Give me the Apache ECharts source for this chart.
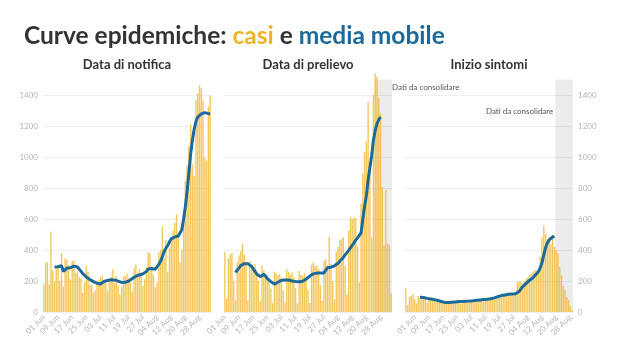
<!DOCTYPE html>
<html>
<head>
<meta charset="utf-8">
<script src="https://cdn.jsdelivr.net/npm/echarts@6/dist/echarts.min.js"></script>
<style>
  html, body { margin: 0; padding: 0; background: #fff; }
  #chart { width: 620px; height: 352px; }
</style>
</head>
<body>
<div id="chart"></div>
<script>
// notifica e prelievo: 01 Jun - 03 Sep
const dates = [
  '01 Jun','02 Jun','03 Jun','04 Jun','05 Jun','06 Jun','07 Jun','08 Jun','09 Jun','10 Jun',
  '11 Jun','12 Jun','13 Jun','14 Jun','15 Jun','16 Jun','17 Jun','18 Jun','19 Jun','20 Jun',
  '21 Jun','22 Jun','23 Jun','24 Jun','25 Jun','26 Jun','27 Jun','28 Jun','29 Jun','30 Jun',
  '01 Jul','02 Jul','03 Jul','04 Jul','05 Jul','06 Jul','07 Jul','08 Jul','09 Jul','10 Jul',
  '11 Jul','12 Jul','13 Jul','14 Jul','15 Jul','16 Jul','17 Jul','18 Jul','19 Jul','20 Jul',
  '21 Jul','22 Jul','23 Jul','24 Jul','25 Jul','26 Jul','27 Jul','28 Jul','29 Jul','30 Jul',
  '31 Jul','01 Aug','02 Aug','03 Aug','04 Aug','05 Aug','06 Aug','07 Aug','08 Aug','09 Aug',
  '10 Aug','11 Aug','12 Aug','13 Aug','14 Aug','15 Aug','16 Aug','17 Aug','18 Aug','19 Aug',
  '20 Aug','21 Aug','22 Aug','23 Aug','24 Aug','25 Aug','26 Aug','27 Aug','28 Aug','29 Aug',
  '30 Aug','31 Aug','01 Sep','02 Sep','03 Sep'
];
// inizio sintomi: 27 May - 29 Aug
const datesSintomi = [
  '27 May','28 May','29 May','30 May','31 May',
  '01 Jun','02 Jun','03 Jun','04 Jun','05 Jun','06 Jun','07 Jun','08 Jun','09 Jun','10 Jun',
  '11 Jun','12 Jun','13 Jun','14 Jun','15 Jun','16 Jun','17 Jun','18 Jun','19 Jun','20 Jun',
  '21 Jun','22 Jun','23 Jun','24 Jun','25 Jun','26 Jun','27 Jun','28 Jun','29 Jun','30 Jun',
  '01 Jul','02 Jul','03 Jul','04 Jul','05 Jul','06 Jul','07 Jul','08 Jul','09 Jul','10 Jul',
  '11 Jul','12 Jul','13 Jul','14 Jul','15 Jul','16 Jul','17 Jul','18 Jul','19 Jul','20 Jul',
  '21 Jul','22 Jul','23 Jul','24 Jul','25 Jul','26 Jul','27 Jul','28 Jul','29 Jul','30 Jul',
  '31 Jul','01 Aug','02 Aug','03 Aug','04 Aug','05 Aug','06 Aug','07 Aug','08 Aug','09 Aug',
  '10 Aug','11 Aug','12 Aug','13 Aug','14 Aug','15 Aug','16 Aug','17 Aug','18 Aug','19 Aug',
  '20 Aug','21 Aug','22 Aug','23 Aug','24 Aug','25 Aug','26 Aug','27 Aug','28 Aug','29 Aug'
];
// etichette ogni 8 giorni a partire dal 01 Jun
const tickLabels = ['01 Jun','09 Jun','17 Jun','25 Jun','03 Jul','11 Jul','19 Jul','27 Jul','04 Aug','12 Aug','20 Aug','28 Aug'];

// Data di notifica
const casiNotifica = [
  178, 318, 321, 177, 518, 270, 197, 280, 283, 202, 379, 163, 346, 338, 301, 210, 329, 333, 251, 262,
  224, 218, 122, 190, 296, 259, 175, 174, 126, 142, 187, 201, 223, 235, 192, 208, 138, 193, 229, 276,
  188, 234, 169, 114, 163, 230, 233, 249, 219, 190, 129, 282, 306, 252, 275, 255, 170, 212, 289, 386,
  379, 295, 239, 159, 190, 384, 402, 552, 347, 463, 259, 412, 481, 522, 574, 629, 479, 320, 403, 642,
  845, 947, 1071, 1210, 953, 878, 1367, 1411, 1462, 1444, 1365, 996, 978, 1326, 1397
];
const mediaNotifica = [
  null, null, null, null, null, null,
  290, 296, 292, 282, 298, 262, 270, 283, 280, 286, 288, 296, 298, 290,
  278, 262, 248, 236, 226, 218, 210, 202, 196, 192, 186, 178, 181, 190,
  197, 200, 203, 205, 208, 206, 207, 204, 199, 195, 191, 189, 192, 196,
  199, 204, 216, 226, 231, 235, 239, 242, 246, 250, 262, 278, 284, 280,
  277, 276, 288, 308, 328, 356, 390, 412, 428, 452, 472, 480, 484, 487,
  490, 496, 530, 600, 680, 780, 900, 1020, 1110, 1180, 1230, 1258, 1270, 1278,
  1284, 1286, 1284, 1280, 1278
];

// Data di prelievo
const casiPrelievo = [
  387, 86, 344, 372, 380, 204, 75,
  322, 365, 393, 441, 370, 322, 75,
  330, 300, 290, 310, 262, 200, 70,
  300, 270, 245, 240, 215, 150, 58,
  260, 250, 238, 245, 215, 140, 62,
  275, 260, 240, 255, 225, 155, 55,
  265, 240, 232, 250, 215, 145, 58,
  305, 320, 295, 300, 275, 175, 72,
  330, 340, 300, 484, 310, 200, 82,
  390, 420, 465, 470, 484, 300, 115,
  525, 613, 600, 613, 605, 420, 190,
  700, 895, 1030, 1100, 1355, 920, 480,
  1400, 1540, 1518, 1380, 1280, 808, 430,
  787, 443, 430, 120
];
const mediaPrelievo = [
  null, null, null, null, null, null,
  255, 270, 285, 300, 310, 312, 313, 312, 308, 295, 280, 262, 245, 237,
  228, 236, 243, 230, 215, 204, 196, 188, 180, 182, 192, 202, 205, 206,
  207, 208, 206, 203, 200, 198, 197, 196, 195, 194, 198, 205, 213, 222,
  232, 240, 246, 249, 251, 252, 252, 252, 252, 260, 286, 288, 289, 290,
  298, 306, 315, 328, 340, 352, 368, 383, 398, 414, 430, 446, 465, 478,
  484, 510, 600, 680, 750, 850, 930, 1010, 1110, 1170, 1215, 1240, 1258,
  null, null, null, null, null, null
];

// Inizio sintomi
const casiSintomi = [
  153, 45, 99, 103, 116, 82, 56, 103, 95, 90,
  85, 92, 60, 88, 80, 78, 75, 70, 62, 72,
  65, 60, 58, 62, 55, 68, 72, 55, 65, 80,
  70, 50, 75, 80, 68, 60, 72, 70, 75, 65,
  78, 75, 72, 80, 70, 85, 82, 78, 88, 80,
  95, 90, 100, 105, 98, 110, 108, 115, 112, 118,
  120, 115, 125, 190, 196, 195, 185, 200, 215, 225,
  240, 250, 260, 271, 265, 282, 357, 480, 560, 505,
  470, 484, 440, 495, 419, 398, 378, 290, 236, 170,
  142, 97, 77, 34, 13
];
const mediaSintomi = [
  null, null, null, null, null, null, null, null,
  95, 96, 93, 90, 88, 86, 84, 82, 80, 77,
  74, 71, 68, 64, 62, 61, 61, 62, 63, 64,
  65, 66, 67, 67, 68, 69, 70, 70, 71, 72,
  73, 74, 76, 77, 78, 79, 80, 81, 82, 84,
  86, 88, 91, 95, 99, 103, 106, 108, 110, 112,
  114, 115, 116, 117, 118, 122, 132, 148, 163, 175,
  185, 195, 205, 213, 222, 235, 248, 262, 285, 320,
  370, 415, 445, 465, 476, 484, 490,
  null, null, null, null, null, null, null, null, null, null
];

const FONT = 'Lato';
const GIALLO = '#f0b323';
const BLU = '#1b6a9a';

const panels = [
  { titolo: 'Data di notifica', giorni: dates, casi: casiNotifica, media: mediaNotifica, left: 43, yLabel: 'left' },
  { titolo: 'Data di prelievo', giorni: dates, casi: casiPrelievo, media: mediaPrelievo, left: 224, yLabel: null,
    shade: ['25 Aug', '03 Sep'], shadeLabel: { position: ['100%', 8], align: 'left', offset: [0, 0] } },
  { titolo: 'Inizio sintomi', giorni: datesSintomi, casi: casiSintomi, media: mediaSintomi, left: 405, yLabel: 'right',
    shade: ['20 Aug', '29 Aug'], shadeLabel: { position: [0, 32], align: 'right', offset: [-2, 0] } }
];

const W = 168, TOP = 79.5, H = 232.5;

// ultima linea della griglia (max) trasparente
const gridColors = ['#efefef','#efefef','#efefef','#efefef','#efefef','#efefef','#efefef','#efefef','rgba(0,0,0,0)'];

const chart = echarts.init(document.getElementById('chart'));

const option = {
  animation: false,
  backgroundColor: '#fff',
  textStyle: { fontFamily: FONT },
  title: {
    left: 19,
    top: 19,
    text: '{a|Curve epidemiche: }{b|casi}{a| e }{c|media mobile}',
    textStyle: {
      rich: {
        a: { fontFamily: FONT, fontSize: 24.5, fontWeight: 'bold', color: '#333' },
        b: { fontFamily: FONT, fontSize: 24.5, fontWeight: 'bold', color: GIALLO },
        c: { fontFamily: FONT, fontSize: 24.5, fontWeight: 'bold', color: BLU }
      }
    }
  },
  graphic: panels.map(p => ({
    type: 'text',
    x: p.left + W / 2,
    y: 65,
    style: {
      text: p.titolo,
      font: 'bold 13px ' + FONT,
      fill: '#333',
      textAlign: 'center',
      textVerticalAlign: 'middle'
    }
  })),
  grid: panels.map(p => ({ left: p.left, top: TOP, width: W, height: H })),
  xAxis: panels.map((p, i) => ({
    type: 'category',
    gridIndex: i,
    data: p.giorni,
    boundaryGap: true,
    axisLine: { show: true, lineStyle: { color: '#eeeeee' } },
    // tick invisibili ma su ogni giorno: servono al markArea per i bordi delle bande
    axisTick: { show: false, interval: 0 },
    axisLabel: {
      interval: (idx, val) => tickLabels.indexOf(val) >= 0,
      rotate: 45,
      fontSize: 8,
      color: '#b5b5b5',
      margin: 4,
      fontFamily: FONT
    }
  })),
  yAxis: panels.map((p, i) => ({
    type: 'value',
    gridIndex: i,
    min: 0,
    max: 1500,
    interval: 200,
    position: p.yLabel === 'right' ? 'right' : 'left',
    axisLine: { show: false },
    axisTick: { show: false },
    axisLabel: {
      show: !!p.yLabel,
      showMaxLabel: false,
      formatter: v => String(v),
      fontSize: 8,
      color: '#b5b5b5',
      margin: 5,
      fontFamily: FONT
    },
    splitLine: { show: true, lineStyle: { color: gridColors, width: 1 } }
  })),
  series: []
};

panels.forEach((p, i) => {
  const bar = {
    type: 'bar',
    xAxisIndex: i,
    yAxisIndex: i,
    data: p.casi,
    clip: false,
    barCategoryGap: '22%',
    itemStyle: { color: GIALLO, opacity: 0.75 },
    silent: true
  };
  if (p.shade) {
    bar.markArea = {
      silent: true,
      itemStyle: { color: 'rgba(0,0,0,0.075)' },
      label: {
        show: true,
        position: p.shadeLabel.position,
        align: p.shadeLabel.align,
        offset: p.shadeLabel.offset,
        verticalAlign: 'middle',
        fontSize: 8,
        color: '#555',
        fontFamily: FONT
      },
      data: [[{ xAxis: p.shade[0], name: 'Dati da consolidare' }, { xAxis: p.shade[1] }]]
    };
  }
  option.series.push(bar);
  option.series.push({
    type: 'line',
    xAxisIndex: i,
    yAxisIndex: i,
    data: p.media,
    showSymbol: false,
    symbol: 'none',
    connectNulls: false,
    lineStyle: { color: BLU, width: 3 },
    z: 5,
    silent: true
  });
});

chart.setOption(option);
</script>
</body>
</html>
